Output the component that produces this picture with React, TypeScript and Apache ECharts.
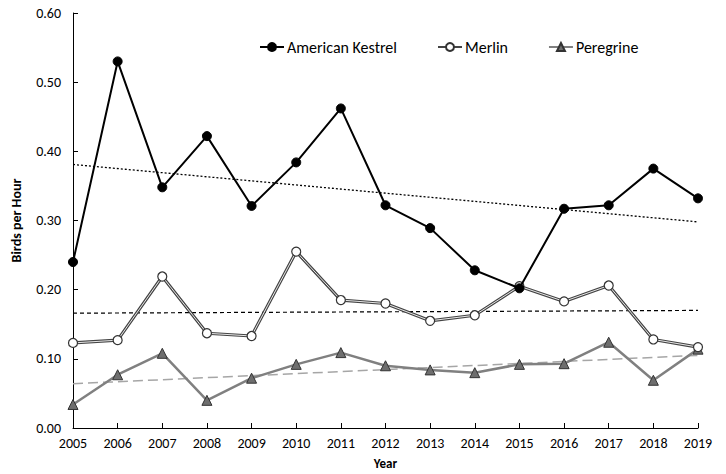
import React, { useEffect, useRef } from "react";
import * as echarts from "echarts";

const years = ["2005","2006","2007","2008","2009","2010","2011","2012","2013","2014","2015","2016","2017","2018","2019"];
const kestrel = [0.24, 0.53, 0.348, 0.422, 0.321, 0.384, 0.462, 0.322, 0.289, 0.228, 0.202, 0.317, 0.322, 0.375, 0.332];
const merlin = [0.123, 0.127, 0.219, 0.137, 0.133, 0.255, 0.185, 0.18, 0.155, 0.163, 0.205, 0.183, 0.206, 0.128, 0.117];
const peregrine = [0.034, 0.077, 0.108, 0.04, 0.072, 0.092, 0.109, 0.09, 0.084, 0.08, 0.092, 0.093, 0.124, 0.069, 0.114];
// trend line end values (first year, last year)
const kestrelTrend = [0.381, 0.298];
const merlinTrend = [0.166, 0.170];
const peregrineTrend = [0.064, 0.105];
const yTicks = [0, 0.1, 0.2, 0.3, 0.4, 0.5, 0.6];

const FONT = "Carlito, Calibri, Lato, sans-serif";

export default function App() {
  const ref = useRef<HTMLDivElement>(null);
  useEffect(() => {
    const chart = echarts.init(ref.current!, null, { renderer: "svg" });
    const last = years.length - 1;
    const trend = (v: number[]) => [[0, v[0]], [last, v[1]]];
    chart.setOption({
      animation: false,
      textStyle: { fontFamily: FONT },
      grid: { left: 73, right: 28, top: 13, bottom: 46, containLabel: false, outerBoundsMode: "none" },
      legend: {
        left: 254,
        top: 34,
        itemGap: 40,
        itemWidth: 24,
        itemHeight: 10,
        textStyle: { fontFamily: FONT, fontSize: 16, color: "#000", padding: [0, 0, 0, -2] },
        data: ["American Kestrel", "Merlin", "Peregrine"],
      },
      xAxis: {
        type: "category",
        data: years,
        boundaryGap: false,
        name: "Year",
        nameLocation: "middle",
        nameGap: 29,
        nameTextStyle: { fontFamily: FONT, fontWeight: "bold", fontSize: 13, color: "#000" },
        axisLine: { lineStyle: { color: "#000", width: 1 } },
        axisTick: { inside: true, length: 5, lineStyle: { color: "#000" } },
        axisLabel: { color: "#000", fontSize: 14, margin: 8, fontFamily: FONT },
        splitLine: { show: false },
      },
      yAxis: {
        type: "value",
        min: yTicks[0],
        max: yTicks[yTicks.length - 1],
        interval: 0.1,
        name: "Birds per Hour",
        nameLocation: "middle",
        nameGap: 50,
        nameTextStyle: { fontFamily: FONT, fontWeight: "bold", fontSize: 14, color: "#000" },
        axisLine: { show: true, lineStyle: { color: "#000", width: 1 } },
        axisTick: { show: true, inside: true, length: 5, lineStyle: { color: "#000" } },
        axisLabel: { color: "#000", fontSize: 14, margin: 12, fontFamily: FONT, formatter: (v: number) => v.toFixed(2) },
        splitLine: { show: false },
      },
      series: [
        {
          name: "kestrelTrend", type: "line", data: trend(kestrelTrend), symbol: "none", silent: true,
          lineStyle: { color: "#000", width: 1.3, type: [2, 2] }, z: 1,
        },
        {
          name: "merlinTrend", type: "line", data: trend(merlinTrend), symbol: "none", silent: true,
          lineStyle: { color: "#000", width: 1.2, type: [4, 3] }, z: 1,
        },
        {
          name: "peregrineTrend", type: "line", data: trend(peregrineTrend), symbol: "none", silent: true,
          lineStyle: { color: "#a6a6a6", width: 1.5, type: [10, 5] }, z: 1,
        },
        {
          name: "American Kestrel", type: "line", data: kestrel,
          symbol: "circle", symbolSize: 9,
          itemStyle: { color: "#000", borderColor: "#000", borderWidth: 1 },
          lineStyle: { color: "#000", width: 2 }, z: 5,
        },
        {
          name: "Merlin", type: "line", data: merlin,
          symbol: "circle", symbolSize: 9,
          itemStyle: { color: "#fff", borderColor: "#333", borderWidth: 1.2 },
          lineStyle: { color: "#444", width: 3.2 }, z: 4,
        },
        {
          name: "merlinInner", type: "line", data: merlin, symbol: "none", silent: true,
          lineStyle: { color: "#e8e8e8", width: 1 }, z: 4,
        },
        {
          name: "Peregrine", type: "line", data: peregrine,
          symbol: "triangle", symbolSize: 10,
          itemStyle: { color: "#6e6e6e", borderColor: "#333", borderWidth: 1 },
          lineStyle: { color: "#808080", width: 2.5 }, z: 3,
        },
      ],
    });
    return () => chart.dispose();
  }, []);
  return <div ref={ref} style={{ width: 726, height: 474, position: "absolute", left: 0, top: 0 }} />;
}
